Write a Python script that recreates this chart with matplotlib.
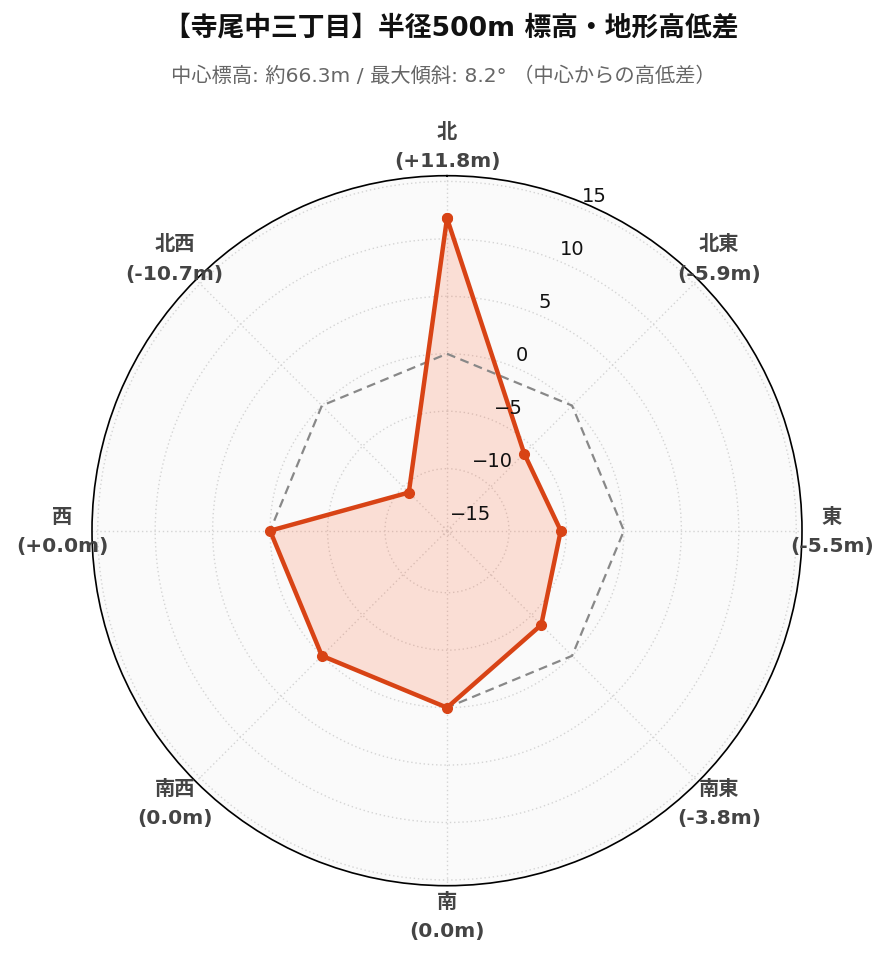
import numpy as np
import matplotlib
matplotlib.use("Agg")
import matplotlib.pyplot as plt
from matplotlib.transforms import offset_copy

FAM = ['DejaVu Sans', 'Noto Sans CJK JP']
plt.rcParams['font.family'] = FAM

directions = ["北", "北東", "東", "南東", "南", "南西", "西", "北西"]
values = [11.8, -5.9, -5.5, -3.8, 0.0, 0.0, 0.0, -10.7]
label_values = ["+11.8m", "-5.9m", "-5.5m", "-3.8m", "0.0m", "0.0m", "+0.0m", "-10.7m"]
radial_ticks = [-15, -10, -5, 0, 5, 10, 15]
r_min, r_max = -15.4, 15.5

title = "【寺尾中三丁目】半径500m 標高・地形高低差"
subtitle = "中心標高: 約66.3m / 最大傾斜: 8.2° （中心からの高低差）"

W, H = 889, 962
fig = plt.figure(figsize=(W / 100, H / 100), dpi=100)
cx, cy, R = 447, 531.7, 355
ax = fig.add_axes([(cx - R) / W, (H - cy - R) / H, 2 * R / W, 2 * R / H], projection='polar')
ax.set_theta_zero_location('N')
ax.set_theta_direction(-1)
ax.set_ylim(r_min, r_max)
ax.set_facecolor('#fafafa')

theta = np.deg2rad(np.arange(len(directions)) * 45.0)
ax.set_xticks(theta)
ax.set_xticklabels([])
ax.set_yticks(radial_ticks)
ax.set_yticklabels([])
ax.grid(True, color='#d4d4d4', linestyle=(0, (1, 2)), linewidth=1.0)
ax.spines['polar'].set_color('black')
ax.spines['polar'].set_linewidth(1.2)
ax.tick_params(length=0)

# zero reference
th_c = np.append(theta, theta[0])
zero = np.zeros(len(th_c))
ax.plot(th_c, zero, color='#888888', linestyle=(0, (4, 2.5)), linewidth=1.6, zorder=3)

vals_c = np.append(values, values[0])
ax.fill(th_c, vals_c, color='#ff5722', alpha=0.17, zorder=2, linewidth=0)
ax.plot(th_c, vals_c, color='#d84315', linewidth=3.2, marker='o', markersize=7, zorder=4)

# radial tick labels
tr = offset_copy(ax.transData, fig=fig, x=1.5, y=3, units='dots')
for t in radial_ticks:
    lab = str(t).replace('-', '\u2212')
    ax.text(np.deg2rad(22.5), t, lab, transform=tr, ha='left', va='bottom',
            fontsize=14, color='#111111', clip_on=False, zorder=5)

# angular labels
r_lab = r_max + 30 / (R / (r_max - r_min))
for th, d, lv in zip(theta, directions, label_values):
    ax.text(th, r_lab, f"{d}\n({lv})", ha='center', va='center', fontsize=14.6,
            fontweight='bold', color='#444444', linespacing=1.68, clip_on=False)

fig.text(451 / W, 1 - 28 / H, title, ha='center', va='center', fontsize=19.3,
         fontweight='bold', color='#111111')
fig.text(443 / W, 1 - 76 / H, subtitle, ha='center', va='center', fontsize=14.6,
         color='#666666')

fig.savefig('out.png', dpi=100, facecolor='white')
